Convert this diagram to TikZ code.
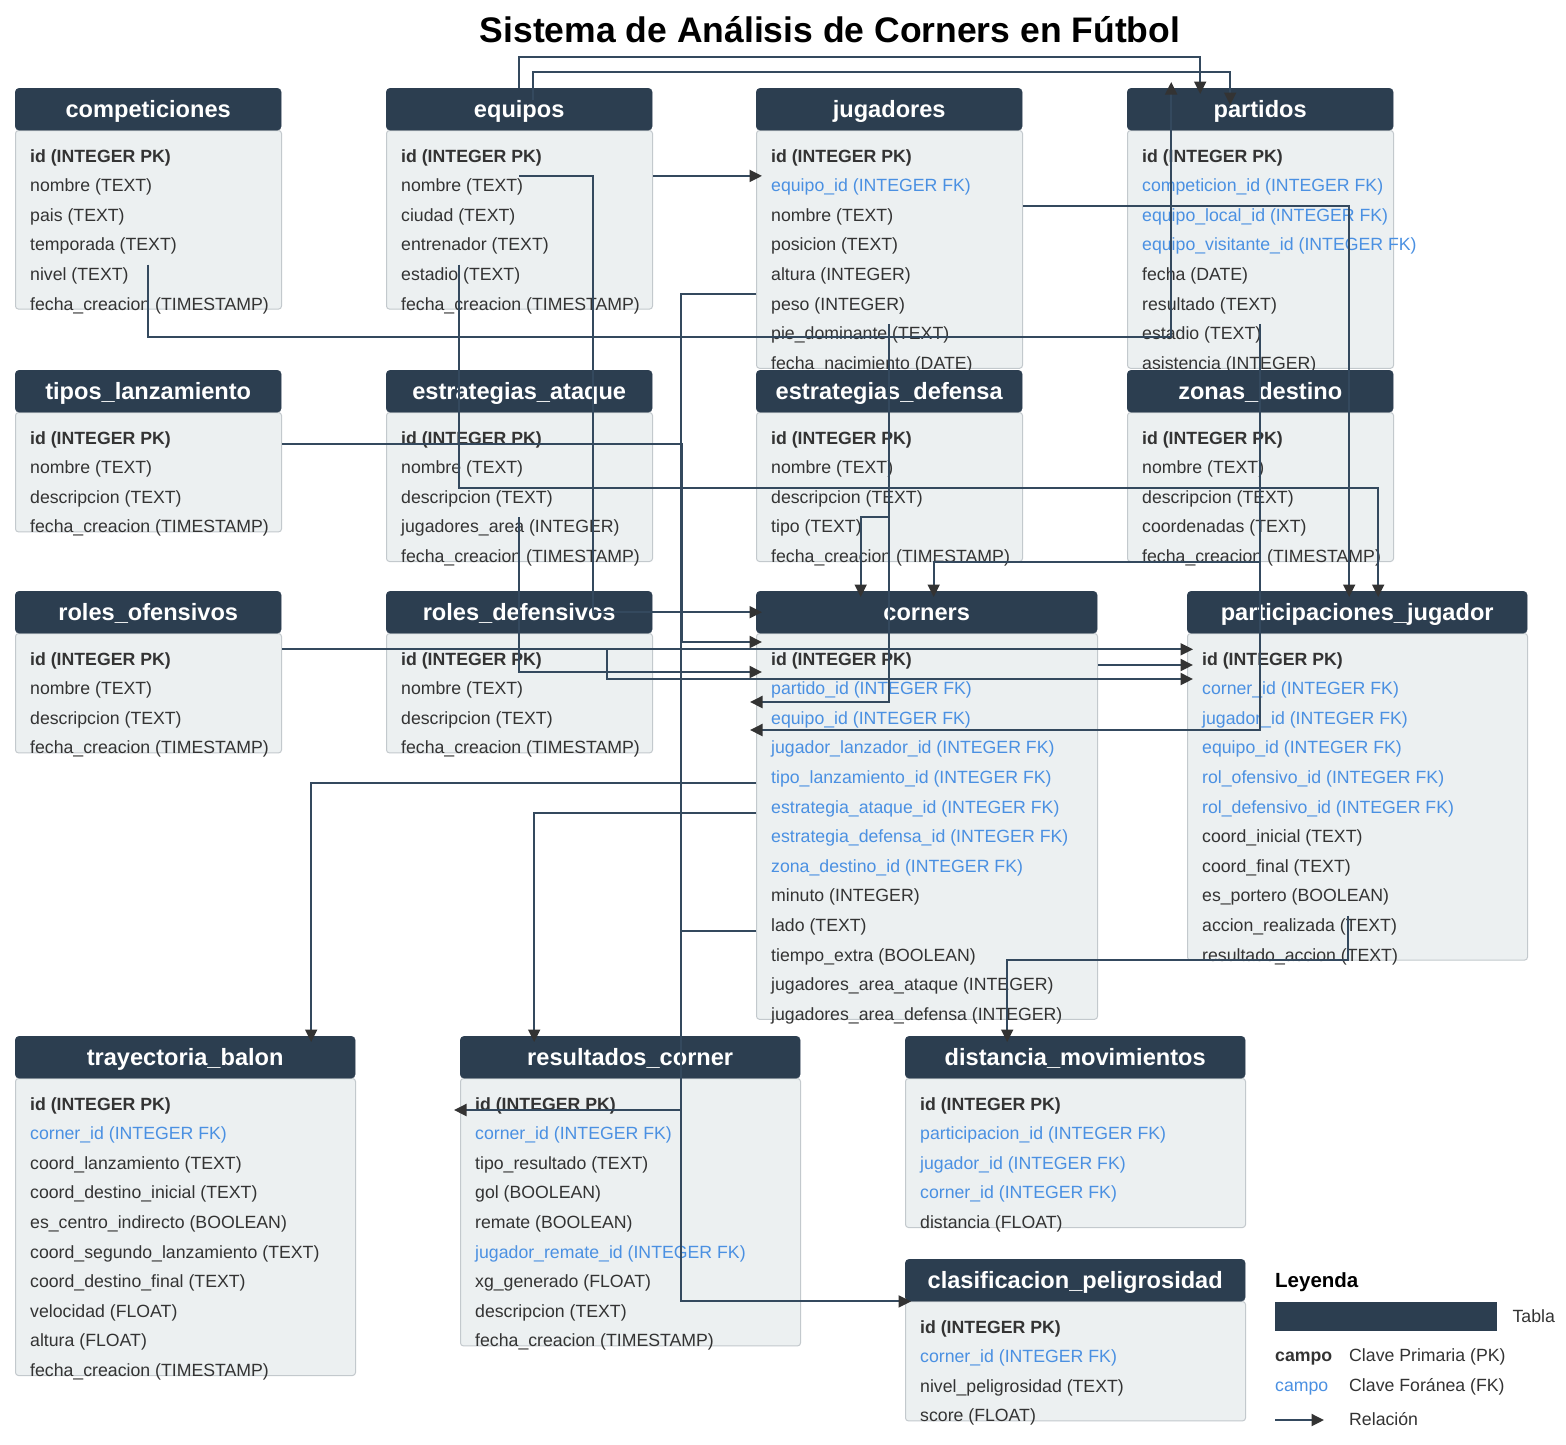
\documentclass[tikz,border=0pt]{standalone}
\usepackage{fontspec}
\setmainfont{Liberation Sans}
\usetikzlibrary{arrows.meta}
\definecolor{cabecera}{HTML}{2C3E50}
\definecolor{fondo}{HTML}{ECF0F1}
\definecolor{borde}{HTML}{C3C9CD}
\definecolor{clave}{HTML}{4A90E2}
\definecolor{texto}{HTML}{333333}
\definecolor{linea}{HTML}{34495E}
% tabla: nombre, x, y, ancho, filas, titulo, campos
\newcommand{\tabla}[7]{%
  \pgfmathsetmacro{\altocuerpo}{29.6*#5+1}%
  \node[cuerpo, minimum width=#4pt, minimum height=\altocuerpo pt] (#1-b) at (#2,{#3+42}) {};
  \node[cab, minimum width=#4pt] (#1) at (#2,#3) {#6};
  \foreach \tipo/\campo [count=\i] in {#7}
    \node[fila-\tipo] (#1-\i) at ({#2+15},{#3+74+29.6*(\i-1)}) {\campo};
}
\begin{document}
\begin{tikzpicture}[x=1pt,y=-1pt,>={Triangle[length=12.5pt,width=12pt,color=texto]},
  cab/.style={fill=cabecera,draw=cabecera,rounded corners=4pt,inner sep=0pt,anchor=north west,
    minimum height=42pt,text=white,text height=19pt,text depth=3pt,
    font=\bfseries\fontsize{23.6pt}{26pt}\selectfont},
  cuerpo/.style={fill=fondo,draw=borde,line width=1pt,rounded corners=3pt,inner sep=0pt,anchor=north west},
  fila/.style={anchor=base west,inner sep=0pt,text height=15.5pt,text depth=4pt,text=texto,
    font=\fontsize{17.7pt}{20pt}\selectfont},
  fila-p/.style={fila,font=\bfseries\fontsize{17.7pt}{20pt}\selectfont},
  fila-n/.style={fila},
  fila-f/.style={fila,text=clave},
  rel/.style={draw=linea,line width=2pt,->,shorten >=-6pt}]
\fill[white] (0,0) rectangle (1566,1444);
\useasboundingbox (0,0) rectangle (1566,1444);
\node[anchor=base,font=\bfseries\fontsize{35.5pt}{40pt}\selectfont] (titulo) at (830,42)
  {Sistema de Análisis de Corners en Fútbol};

\tabla{competiciones}{15}{88}{266}{6}{competiciones}{p/id (INTEGER PK),n/nombre (TEXT),n/pais (TEXT),
  n/temporada (TEXT),n/nivel (TEXT),n/fecha\_creacion (TIMESTAMP)}
\tabla{equipos}{386}{88}{266}{6}{equipos}{p/id (INTEGER PK),n/nombre (TEXT),n/ciudad (TEXT),
  n/entrenador (TEXT),n/estadio (TEXT),n/fecha\_creacion (TIMESTAMP)}
\tabla{jugadores}{756}{88}{266}{8}{jugadores}{p/id (INTEGER PK),f/equipo\_id (INTEGER FK),n/nombre (TEXT),
  n/posicion (TEXT),n/altura (INTEGER),n/peso (INTEGER),n/pie\_dominante (TEXT),n/fecha\_nacimiento (DATE)}
\tabla{partidos}{1127}{88}{266}{8}{partidos}{p/id (INTEGER PK),f/competicion\_id (INTEGER FK),
  f/equipo\_local\_id (INTEGER FK),f/equipo\_visitante\_id (INTEGER FK),n/fecha (DATE),
  n/resultado (TEXT),n/estadio (TEXT),n/asistencia (INTEGER)}

\tabla{tipos}{15}{370}{266}{4}{tipos\_lanzamiento}{p/id (INTEGER PK),n/nombre (TEXT),
  n/descripcion (TEXT),n/fecha\_creacion (TIMESTAMP)}
\tabla{eataque}{386}{370}{266}{5}{estrategias\_ataque}{p/id (INTEGER PK),n/nombre (TEXT),
  n/descripcion (TEXT),n/jugadores\_area (INTEGER),n/fecha\_creacion (TIMESTAMP)}
\tabla{edefensa}{756}{370}{266}{5}{estrategias\_defensa}{p/id (INTEGER PK),n/nombre (TEXT),
  n/descripcion (TEXT),n/tipo (TEXT),n/fecha\_creacion (TIMESTAMP)}
\tabla{zonas}{1127}{370}{266}{5}{zonas\_destino}{p/id (INTEGER PK),n/nombre (TEXT),
  n/descripcion (TEXT),n/coordenadas (TEXT),n/fecha\_creacion (TIMESTAMP)}

\tabla{rofens}{15}{591}{266}{4}{roles\_ofensivos}{p/id (INTEGER PK),n/nombre (TEXT),
  n/descripcion (TEXT),n/fecha\_creacion (TIMESTAMP)}
\tabla{rdefens}{386}{591}{266}{4}{roles\_defensivos}{p/id (INTEGER PK),n/nombre (TEXT),
  n/descripcion (TEXT),n/fecha\_creacion (TIMESTAMP)}
\tabla{corners}{756}{591}{341}{13}{corners}{p/id (INTEGER PK),f/partido\_id (INTEGER FK),
  f/equipo\_id (INTEGER FK),f/jugador\_lanzador\_id (INTEGER FK),f/tipo\_lanzamiento\_id (INTEGER FK),
  f/estrategia\_ataque\_id (INTEGER FK),f/estrategia\_defensa\_id (INTEGER FK),f/zona\_destino\_id (INTEGER FK),
  n/minuto (INTEGER),n/lado (TEXT),n/tiempo\_extra (BOOLEAN),n/jugadores\_area\_ataque (INTEGER),
  n/jugadores\_area\_defensa (INTEGER)}
\tabla{particip}{1187}{591}{340}{11}{participaciones\_jugador}{p/id (INTEGER PK),f/corner\_id (INTEGER FK),
  f/jugador\_id (INTEGER FK),f/equipo\_id (INTEGER FK),f/rol\_ofensivo\_id (INTEGER FK),
  f/rol\_defensivo\_id (INTEGER FK),n/coord\_inicial (TEXT),n/coord\_final (TEXT),n/es\_portero (BOOLEAN),
  n/accion\_realizada (TEXT),n/resultado\_accion (TEXT)}

\tabla{trayect}{15}{1036}{340}{10}{trayectoria\_balon}{p/id (INTEGER PK),f/corner\_id (INTEGER FK),
  n/coord\_lanzamiento (TEXT),n/coord\_destino\_inicial (TEXT),n/es\_centro\_indirecto (BOOLEAN),
  n/coord\_segundo\_lanzamiento (TEXT),n/coord\_destino\_final (TEXT),n/velocidad (FLOAT),
  n/altura (FLOAT),n/fecha\_creacion (TIMESTAMP)}
\tabla{result}{460}{1036}{340}{9}{resultados\_corner}{p/id (INTEGER PK),f/corner\_id (INTEGER FK),
  n/tipo\_resultado (TEXT),n/gol (BOOLEAN),n/remate (BOOLEAN),f/jugador\_remate\_id (INTEGER FK),
  n/xg\_generado (FLOAT),n/descripcion (TEXT),n/fecha\_creacion (TIMESTAMP)}
\tabla{distancia}{905}{1036}{340}{5}{distancia\_movimientos}{p/id (INTEGER PK),
  f/participacion\_id (INTEGER FK),f/jugador\_id (INTEGER FK),f/corner\_id (INTEGER FK),n/distancia (FLOAT)}
\tabla{clasif}{905}{1259}{340}{4}{clasificacion\_peligrosidad}{p/id (INTEGER PK),
  f/corner\_id (INTEGER FK),n/nivel\_peligrosidad (TEXT),n/score (FLOAT)}

% relaciones
\draw[rel] (equipos.north) -- ++(0,-31) -| ([xshift=-60pt]partidos.north);
\draw[rel] ([xshift=14pt,yshift=-12pt]equipos.north) -- ++(0,-28) -| ([xshift=-30pt,yshift=-11pt]partidos.north);
\draw[rel] (competiciones.south |- competiciones-5.north) -- ++(0,72) -| ([xshift=-89pt]partidos.north);
\draw[rel] (equipos-2.north -| equipos-b.east) -- (equipos-2.north -| jugadores-b.west);
\draw[rel] (equipos.south |- equipos-2.north) -| ([xshift=-163pt]corners.west) -- (corners.west);
\draw[rel] ([xshift=-60pt]equipos.south |- equipos-5.north) -- ([xshift=-60pt]equipos.south |- eataque-3.north)
  -| ([xshift=21pt]particip.north);
\draw[rel] (jugadores-3.north -| jugadores-b.east) -| ([xshift=-8pt]particip.north);
\draw[rel] (jugadores-6.north -| jugadores-b.west) -- ++(-75,0) |- (result-1.base -| result-b.west);
\draw[rel] (tipos-1.base -| tipos-b.east) -- ++(400,0) |- ([yshift=-9pt]corners-b.north west);
\draw[rel] (eataque.south |- eataque-4.north) |- ([yshift=-39pt]corners-b.north west);
\draw[rel] (rofens-1.north -| rofens-b.east) -- (rofens-1.north -| particip-b.west);
\draw[rel] ([xshift=88pt]rdefens.south |- rofens-1.north) |- ([yshift=-46pt]particip-b.north west);
\draw[rel] (corners-1.base -| corners-b.east) -- (corners-1.base -| particip-b.west);
\draw[rel] (jugadores.south |- jugadores-7.north) |- ([yshift=-69pt]corners-b.north west);
\draw[rel] (edefensa.south |- edefensa-4.north) -- ++(-29,0) -| ([xshift=-66pt]corners.north);
\draw[rel] (zonas-b.south) -| ([xshift=7pt]corners.north);
\draw[rel] (partidos.south |- partidos-7.north) |- ([yshift=-97pt]corners-b.north west);
\draw[rel] (corners-5.base -| corners-b.west) -| ([xshift=126pt]trayect.north);
\draw[rel] (corners-6.base -| corners-b.west) -| ([xshift=-96pt]result.north);
\draw[rel] (corners-10.base -| corners-b.west) -- ++(-75,0) |- (clasif.south west);
\draw[rel] ([xshift=-9pt]particip.south |- particip-10.north) -- ++(0,44) -| ([xshift=-68pt]distancia.north);

% leyenda
\node[anchor=base west,inner sep=0pt,font=\bfseries\fontsize{20.5pt}{24pt}\selectfont] (leyenda) at (1275,1287) {Leyenda};
\node[fill=cabecera,inner sep=0pt,minimum width=222pt,minimum height=29pt,anchor=north west] (ley-tabla) at (1275,1302) {};
\node[fila-n,anchor=west] (ley-t) at ([xshift=15pt]ley-tabla.east) {Tabla};
\node[fila-p] (ley-pk) at (1275,1361) {campo};
\node[fila-n] (ley-pkt) at (1349,1361) {Clave Primaria (PK)};
\node[fila-f] (ley-fk) at (1275,1391) {campo};
\node[fila-n] (ley-fkt) at (1349,1391) {Clave Foránea (FK)};
\coordinate (ley-a) at (1275,1420);
\node[fila-n,anchor=west] (ley-rel) at (1349,1420) {Relación};
\draw[rel,shorten >=25pt] (ley-a) -- (ley-rel.west);
\end{tikzpicture}
\end{document}
